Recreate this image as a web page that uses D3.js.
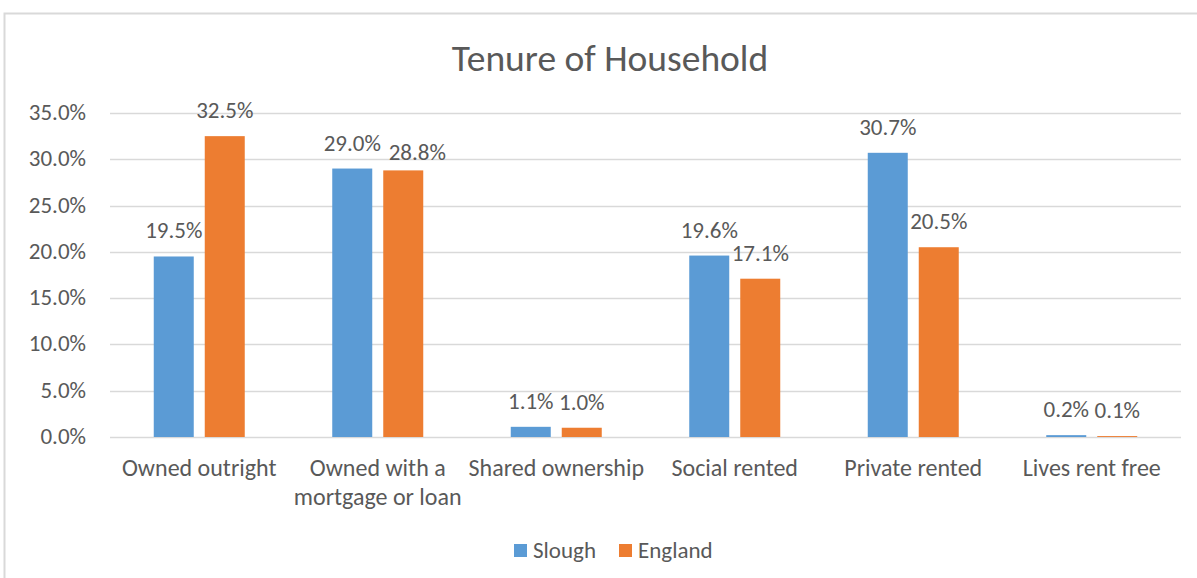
<!DOCTYPE html>
<html>
<head>
<meta charset="utf-8">
<script src="https://cdn.jsdelivr.net/npm/d3@7"></script>
<style>
  body { margin: 0; background: #fff; }
  text { font-family: Carlito, Calibri, Lato, sans-serif; fill: #595959; }
</style>
</head>
<body>
<script>
var w = 1197;
var h = 578;

var categories = [["Owned outright"], ["Owned with a", "mortgage or loan"], ["Shared ownership"],
                  ["Social rented"], ["Private rented"], ["Lives rent free"]];
var seriesNames = ["Slough", "England"];
var slough = [19.5, 29.0, 1.1, 19.6, 30.7, 0.2];
var england = [32.5, 28.8, 1.0, 17.1, 20.5, 0.1];
var yTicks = [0, 5, 10, 15, 20, 25, 30, 35];
var colors = ["#5B9BD5", "#ED7D31"];

var plotLeft = 110, plotRight = 1181, plotTop = 113, plotBottom = 437;

var svg = d3.select("body").append("svg").attr("width", w).attr("height", h);

// chart border
svg.append("rect")
    .attr("x", 4.5).attr("y", 13.5)
    .attr("width", 1200).attr("height", 600)
    .attr("fill", "none")
    .attr("stroke", "#D9D9D9")
    .attr("stroke-width", 2);

svg.append("text")
    .attr("x", 610).attr("y", 71)
    .attr("text-anchor", "middle")
    .attr("font-size", "37.5px")
    .text("Tenure of Household");

var xScale = d3.scaleBand()
    .domain(d3.range(categories.length))
    .range([plotLeft, plotRight]);

var yScale = d3.scaleLinear()
    .domain([0, 35])
    .range([plotBottom, plotTop]);

var barW = 40, gap = 11;

// gridlines
svg.selectAll(".grid")
    .data(yTicks).enter()
    .append("line")
    .attr("x1", plotLeft).attr("x2", plotRight)
    .attr("y1", d => Math.round(yScale(d)) + 0.5)
    .attr("y2", d => Math.round(yScale(d)) + 0.5)
    .attr("stroke", "#D9D9D9")
    .attr("stroke-width", 1.5);

// y labels
svg.selectAll(".ylab")
    .data(yTicks).enter()
    .append("text")
    .attr("x", 86)
    .attr("y", d => yScale(d) + 7)
    .attr("text-anchor", "end")
    .attr("font-size", "23px")
    .text(d => d.toFixed(1) + "%");

// bars
var series = [slough, england];
series.forEach((vals, s) => {
    var xOff = s == 0 ? -gap / 2 - barW : gap / 2;
    svg.selectAll(".bar" + s)
        .data(vals).enter()
        .append("rect")
        .attr("x", (d, i) => xScale(i) + xScale.bandwidth() / 2 + xOff)
        .attr("y", d => yScale(d))
        .attr("width", barW)
        .attr("height", d => plotBottom - yScale(d))
        .attr("fill", colors[s]);
});

// data labels, England label nudged when it would collide with Slough's
var clash = (d, i) => d > 5 && Math.abs(yScale(d) - yScale(slough[i])) < 15;
series.forEach((vals, s) => {
    var xOff = s == 0 ? -gap / 2 - barW : gap / 2;
    svg.selectAll(".lab" + s)
        .data(vals).enter()
        .append("text")
        .attr("x", (d, i) => {
            var x = xScale(i) + xScale.bandwidth() / 2 + xOff + barW / 2;
            if (s == 1 && clash(d, i)) x += 14;
            return x;
        })
        .attr("y", (d, i) => {
            var y = yScale(d) - 18;
            if (s == 1 && clash(d, i)) y += 8;
            return y;
        })
        .attr("text-anchor", "middle")
        .attr("font-size", "23px")
        .attr("fill", "#404040")
        .text(d => d.toFixed(1) + "%");
});

// category labels
categories.forEach((lines, i) => {
    var t = svg.append("text")
        .attr("x", xScale(i) + xScale.bandwidth() / 2)
        .attr("y", 476)
        .attr("text-anchor", "middle")
        .attr("font-size", "24px");
    lines.forEach((l, j) => {
        t.append("tspan")
            .attr("x", xScale(i) + xScale.bandwidth() / 2)
            .attr("dy", j == 0 ? 0 : 29)
            .text(l);
    });
});

// legend
var legX = [514, 619];
seriesNames.forEach((n, s) => {
    svg.append("rect")
        .attr("x", legX[s]).attr("y", 544)
        .attr("width", 13).attr("height", 13)
        .attr("fill", colors[s]);
    svg.append("text")
        .attr("x", legX[s] + 19).attr("y", 558)
        .attr("font-size", "23px")
        .text(n);
});
</script>
</body>
</html>
